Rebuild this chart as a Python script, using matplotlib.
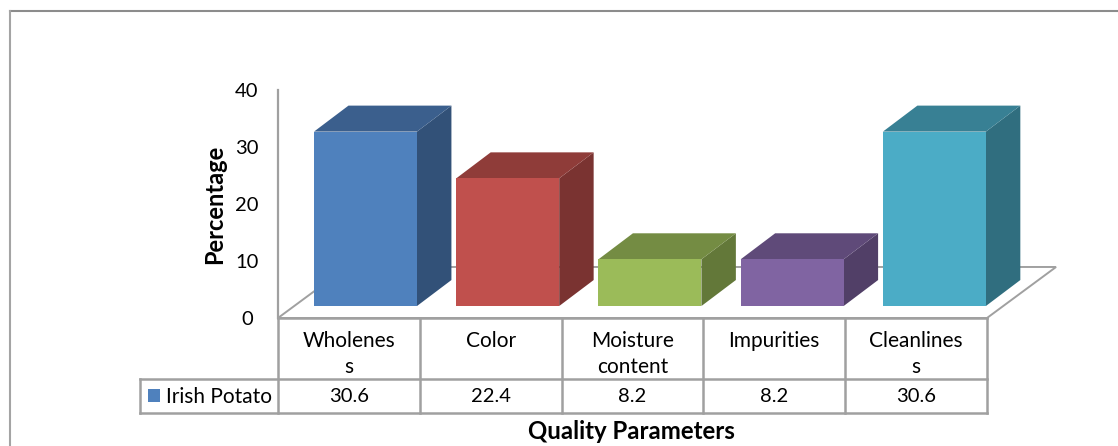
import matplotlib
matplotlib.use("Agg")
import matplotlib.pyplot as plt
from matplotlib.lines import Line2D
from matplotlib.patches import Polygon, Rectangle

categories = ['Wholenes\ns', 'Color', 'Moisture\ncontent', 'Impurities', 'Cleanlines\ns']
value_labels = ['30.6', '22.4', '8.2', '8.2', '30.6']
values = [30.6, 22.4, 8.2, 8.2, 30.6]
series_name = 'Irish Potato'
yticks = [0, 10, 20, 30, 40]

front_colors = ['#4f81bd', '#c0504d', '#9bbb59', '#8064a2', '#4bacc6']
top_colors = ['#3b5f8d', '#8f3c39', '#748c43', '#5f4a79', '#388094']
side_colors = ['#325178', '#7a3331', '#637839', '#513f67', '#306e7f']
grey = '#a0a0a0'

plt.rcParams['font.family'] = ['Lato', 'DejaVu Sans']

fig = plt.figure(figsize=(11.18, 4.46), dpi=100)
# helper to go from pixels to figure fractions
W, H = 1118.0, 446.0
ax = fig.add_axes([278 / W, (H - 318) / H, 709 / W, 228 / H])
ax.set_xlim(0, 5)
ax.set_ylim(0, 40)
ax.axis('off')

# frame of the chart only has a top and a left edge
fig.add_artist(Line2D([9.5 / W, 1], [1 - 11 / H, 1 - 11 / H], transform=fig.transFigure,
                      color='#8c8c8c', linewidth=1.5))
fig.add_artist(Line2D([9.5 / W, 9.5 / W], [0, 1 - 11 / H], transform=fig.transFigure,
                      color='#a4a4a4', linewidth=1.5))

# 3d look, offsets in data units
floor_dx, floor_dy = 0.487, 8.95
depth_dx, depth_dy = 0.243, 4.56
lift = 2.1
bar_w = 0.726
bar_off = 0.254
bar_pitch = 1.003

# floor and y axis
ax.add_patch(Polygon([(0, 0), (floor_dx, floor_dy), (5 + floor_dx, floor_dy), (5, 0)], closed=True,
                     facecolor='white', edgecolor=grey, linewidth=1.4, clip_on=False, zorder=1))
ax.plot([0, 0], [0, 40], color=grey, linewidth=1.6, clip_on=False, zorder=1)
for t in yticks:
    ax.text(-0.22, t - 0.35, str(t), ha='center', va='center', fontsize=14.5, color='black')
ax.text(-0.444, 20, 'Percentage', rotation=90, ha='center', va='center',
        fontsize=17, fontweight='bold')

# bars
for i, v in enumerate(values):
    x0 = i * bar_pitch + bar_off
    x1 = x0 + bar_w
    y0 = lift
    y1 = lift + v
    ax.add_patch(Polygon([(x1, y0), (x1 + depth_dx, y0 + depth_dy), (x1 + depth_dx, y1 + depth_dy), (x1, y1)],
                         closed=True, facecolor=side_colors[i], edgecolor='none', clip_on=False, zorder=2))
    ax.add_patch(Polygon([(x0, y1), (x0 + depth_dx, y1 + depth_dy), (x1 + depth_dx, y1 + depth_dy), (x1, y1)],
                         closed=True, facecolor=top_colors[i], edgecolor='none', clip_on=False, zorder=2))
    ax.add_patch(Rectangle((x0, y0), bar_w, v, facecolor=front_colors[i], edgecolor='none',
                           clip_on=False, zorder=3))

# data table under the axis
row1 = -10.65
row2 = -16.6
legend_x = -0.973
ax.plot([0, 5], [0, 0], color=grey, linewidth=1.8, clip_on=False, zorder=4)
ax.plot([legend_x, 5], [row1, row1], color=grey, linewidth=1.8, clip_on=False)
ax.plot([legend_x, 5], [row2, row2], color=grey, linewidth=1.8, clip_on=False)
ax.plot([legend_x, legend_x], [row1, row2], color=grey, linewidth=1.8, clip_on=False)
for i in range(6):
    ax.plot([i, i], [0, row2], color=grey, linewidth=1.8, clip_on=False)

for i, c in enumerate(categories):
    lines = c.split('\n')
    ax.text(i + 0.5, -4.05, lines[0], ha='center', va='center', fontsize=15, clip_on=False)
    if len(lines) > 1:
        ax.text(i + 0.5, -8.6, lines[1], ha='center', va='center', fontsize=15, clip_on=False)
    ax.text(i + 0.5, -13.85, value_labels[i], ha='center', va='center', fontsize=14.5, clip_on=False)

ax.add_patch(Rectangle((-0.917, -14.7), 0.085, 2.2, facecolor=front_colors[0], edgecolor='none', clip_on=False))
ax.text(-0.79, -13.85, series_name, ha='left', va='center', fontsize=15, clip_on=False)

ax.text(2.496, -19.95, 'Quality Parameters', ha='center', va='center', fontsize=17.3,
        fontweight='bold', clip_on=False)

fig.savefig('out.png', dpi=100)
